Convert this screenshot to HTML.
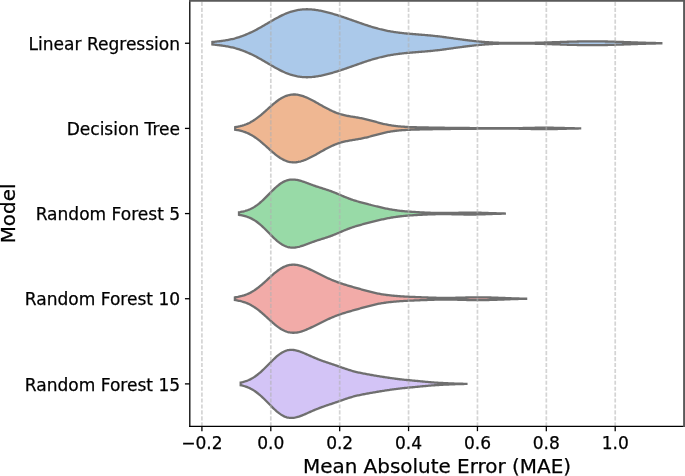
<!DOCTYPE html>
<html><head><meta charset="utf-8"><title>Model MAE violin plot</title>
<style>
html,body{margin:0;padding:0;background:#fff;}
body{width:685px;height:476px;overflow:hidden;}
svg{display:block;}
text{font-family:"DejaVu Sans","Liberation Sans",sans-serif;fill:#000;stroke:#000;stroke-width:0.25px;}
.tick{font-size:17.05px;}
.lab{font-size:19.95px;}
</style></head><body>
<svg width="685" height="476" viewBox="0 0 685 476">
<rect x="0" y="0" width="685" height="476" fill="#fff"/>
<path d="M212.4,41.96 213.4,41.88 214.4,41.79 215.4,41.69 216.4,41.59 217.4,41.48 218.4,41.37 219.4,41.25 220.4,41.13 221.4,41.00 222.4,40.86 223.4,40.71 224.4,40.56 225.4,40.40 226.4,40.23 227.4,40.05 228.4,39.86 229.4,39.66 230.4,39.46 231.4,39.24 232.4,39.02 233.4,38.78 234.4,38.53 235.4,38.25 236.4,37.97 237.4,37.67 238.4,37.36 239.4,37.04 240.4,36.71 241.4,36.36 242.4,36.00 243.4,35.63 244.4,35.24 245.4,34.84 246.4,34.43 247.4,34.01 248.4,33.57 249.4,33.12 250.4,32.66 251.4,32.19 252.4,31.70 253.4,31.20 254.4,30.70 255.4,30.18 256.4,29.65 257.4,29.12 258.4,28.57 259.4,28.02 260.4,27.46 261.4,26.89 262.4,26.32 263.4,25.74 264.4,25.16 265.4,24.58 266.4,23.99 267.4,23.40 268.4,22.81 269.4,22.23 270.4,21.64 271.4,21.06 272.4,20.48 273.4,19.91 274.4,19.34 275.4,18.78 276.4,18.23 277.4,17.69 278.4,17.16 279.4,16.64 280.4,16.13 281.4,15.64 282.4,15.16 283.4,14.69 284.4,14.25 285.4,13.81 286.4,13.40 287.4,13.00 288.4,12.62 289.4,12.26 290.4,11.92 291.4,11.60 292.4,11.30 293.4,11.02 294.4,10.77 295.4,10.53 296.4,10.31 297.4,10.11 298.4,9.94 299.4,9.79 300.4,9.65 301.4,9.54 302.4,9.45 303.4,9.37 304.4,9.32 305.4,9.29 306.4,9.27 307.4,9.27 308.4,9.29 309.4,9.33 310.4,9.39 311.4,9.46 312.4,9.54 313.4,9.65 314.4,9.76 315.4,9.89 316.4,10.04 317.4,10.19 318.4,10.36 319.4,10.54 320.4,10.73 321.4,10.93 322.4,11.14 323.4,11.36 324.4,11.59 325.4,11.83 326.4,12.08 327.4,12.33 328.4,12.59 329.4,12.86 330.4,13.14 331.4,13.42 332.4,13.71 333.4,14.00 334.4,14.30 335.4,14.60 336.4,14.91 337.4,15.22 338.4,15.54 339.4,15.86 340.4,16.19 341.4,16.52 342.4,16.85 343.4,17.18 344.4,17.52 345.4,17.86 346.4,18.21 347.4,18.55 348.4,18.90 349.4,19.25 350.4,19.60 351.4,19.95 352.4,20.30 353.4,20.65 354.4,21.01 355.4,21.36 356.4,21.71 357.4,22.06 358.4,22.42 359.4,22.76 360.4,23.11 361.4,23.46 362.4,23.80 363.4,24.14 364.4,24.48 365.4,24.82 366.4,25.15 367.4,25.47 368.4,25.80 369.4,26.12 370.4,26.43 371.4,26.74 372.4,27.04 373.4,27.34 374.4,27.63 375.4,27.92 376.4,28.20 377.4,28.47 378.4,28.74 379.4,29.00 380.4,29.25 381.4,29.49 382.4,29.73 383.4,29.97 384.4,30.19 385.4,30.41 386.4,30.62 387.4,30.82 388.4,31.02 389.4,31.21 390.4,31.39 391.4,31.56 392.4,31.73 393.4,31.90 394.4,32.05 395.4,32.20 396.4,32.35 397.4,32.48 398.4,32.62 399.4,32.74 400.4,32.86 401.4,32.98 402.4,33.09 403.4,33.20 404.4,33.30 405.4,33.40 406.4,33.50 407.4,33.59 408.4,33.68 409.4,33.77 410.4,33.86 411.4,33.94 412.4,34.02 413.4,34.10 414.4,34.18 415.4,34.26 416.4,34.34 417.4,34.42 418.4,34.49 419.4,34.57 420.4,34.65 421.4,34.73 422.4,34.81 423.4,34.89 424.4,34.97 425.4,35.06 426.4,35.15 427.4,35.23 428.4,35.32 429.4,35.42 430.4,35.51 431.4,35.61 432.4,35.71 433.4,35.81 434.4,35.92 435.4,36.03 436.4,36.14 437.4,36.25 438.4,36.37 439.4,36.48 440.4,36.61 441.4,36.73 442.4,36.86 443.4,36.99 444.4,37.12 445.4,37.25 446.4,37.38 447.4,37.52 448.4,37.66 449.4,37.80 450.4,37.94 451.4,38.08 452.4,38.23 453.4,38.37 454.4,38.52 455.4,38.66 456.4,38.80 457.4,38.93 458.4,39.07 459.4,39.20 460.4,39.34 461.4,39.47 462.4,39.61 463.4,39.74 464.4,39.87 465.4,40.00 466.4,40.13 467.4,40.25 468.4,40.37 469.4,40.49 470.4,40.61 471.4,40.73 472.4,40.84 473.4,40.95 474.4,41.06 475.4,41.17 476.4,41.27 477.4,41.37 478.4,41.47 479.4,41.56 480.4,41.65 481.4,41.74 482.4,41.82 483.4,41.90 484.4,41.98 485.4,42.05 486.4,42.13 487.4,42.19 488.4,42.26 489.4,42.32 490.4,42.38 491.4,42.44 492.4,42.49 493.4,42.54 494.4,42.59 495.4,42.63 496.4,42.67 497.4,42.71 498.4,42.75 499.4,42.78 500.4,42.81 501.4,42.84 502.4,42.87 503.4,42.89 504.4,42.91 505.4,42.93 506.4,42.95 507.4,42.97 508.4,42.98 509.4,42.99 510.4,43.00 511.4,43.01 512.4,43.02 513.4,43.02 514.4,43.02 515.4,43.02 516.4,43.02 517.4,43.02 518.4,43.02 519.4,43.01 520.4,43.01 521.4,43.00 522.4,42.99 523.4,42.98 524.4,42.97 525.4,42.96 526.4,42.94 527.4,42.93 528.4,42.91 529.4,42.89 530.4,42.87 531.4,42.85 532.4,42.83 533.4,42.81 534.4,42.79 535.4,42.77 536.4,42.74 537.4,42.72 538.4,42.69 539.4,42.67 540.4,42.64 541.4,42.61 542.4,42.58 543.4,42.55 544.4,42.52 545.4,42.49 546.4,42.46 547.4,42.43 548.4,42.40 549.4,42.36 550.4,42.33 551.4,42.30 552.4,42.26 553.4,42.23 554.4,42.20 555.4,42.16 556.4,42.13 557.4,42.10 558.4,42.06 559.4,42.03 560.4,41.99 561.4,41.96 562.4,41.93 563.4,41.89 564.4,41.86 565.4,41.83 566.4,41.80 567.4,41.77 568.4,41.74 569.4,41.71 570.4,41.68 571.4,41.65 572.4,41.63 573.4,41.60 574.4,41.57 575.4,41.55 576.4,41.53 577.4,41.50 578.4,41.48 579.4,41.46 580.4,41.45 581.4,41.43 582.4,41.41 583.4,41.40 584.4,41.39 585.4,41.38 586.4,41.37 587.4,41.36 588.4,41.35 589.4,41.35 590.4,41.34 591.4,41.34 592.4,41.34 593.4,41.34 594.4,41.34 595.4,41.35 596.4,41.35 597.4,41.36 598.4,41.37 599.4,41.38 600.4,41.39 601.4,41.41 602.4,41.42 603.4,41.44 604.4,41.46 605.4,41.48 606.4,41.50 607.4,41.52 608.4,41.55 609.4,41.57 610.4,41.60 611.4,41.62 612.4,41.65 613.4,41.68 614.4,41.71 615.4,41.74 616.4,41.78 617.4,41.81 618.4,41.84 619.4,41.88 620.4,41.91 621.4,41.95 622.4,41.98 623.4,42.02 624.4,42.05 625.4,42.09 626.4,42.13 627.4,42.16 628.4,42.20 629.4,42.23 630.4,42.27 631.4,42.31 632.4,42.34 633.4,42.38 634.4,42.41 635.4,42.45 636.4,42.48 637.4,42.52 638.4,42.55 639.4,42.58 640.4,42.62 641.4,42.65 642.4,42.68 643.4,42.71 644.4,42.74 645.4,42.77 646.4,42.79 647.4,42.82 648.4,42.85 649.4,42.87 650.4,42.90 651.4,42.92 652.4,42.94 653.4,42.97 654.4,42.99 655.4,43.01 656.4,43.03 657.4,43.05 658.4,43.06 659.4,43.08 660.4,43.10 661.3,43.11 L661.3,43.39 660.4,43.40 659.4,43.42 658.4,43.44 657.4,43.45 656.4,43.47 655.4,43.49 654.4,43.51 653.4,43.53 652.4,43.56 651.4,43.58 650.4,43.60 649.4,43.63 648.4,43.65 647.4,43.68 646.4,43.71 645.4,43.73 644.4,43.76 643.4,43.79 642.4,43.82 641.4,43.85 640.4,43.88 639.4,43.92 638.4,43.95 637.4,43.98 636.4,44.02 635.4,44.05 634.4,44.09 633.4,44.12 632.4,44.16 631.4,44.19 630.4,44.23 629.4,44.27 628.4,44.30 627.4,44.34 626.4,44.37 625.4,44.41 624.4,44.45 623.4,44.48 622.4,44.52 621.4,44.55 620.4,44.59 619.4,44.62 618.4,44.66 617.4,44.69 616.4,44.72 615.4,44.76 614.4,44.79 613.4,44.82 612.4,44.85 611.4,44.88 610.4,44.90 609.4,44.93 608.4,44.95 607.4,44.98 606.4,45.00 605.4,45.02 604.4,45.04 603.4,45.06 602.4,45.08 601.4,45.09 600.4,45.11 599.4,45.12 598.4,45.13 597.4,45.14 596.4,45.15 595.4,45.15 594.4,45.16 593.4,45.16 592.4,45.16 591.4,45.16 590.4,45.16 589.4,45.15 588.4,45.15 587.4,45.14 586.4,45.13 585.4,45.12 584.4,45.11 583.4,45.10 582.4,45.09 581.4,45.07 580.4,45.05 579.4,45.04 578.4,45.02 577.4,45.00 576.4,44.97 575.4,44.95 574.4,44.93 573.4,44.90 572.4,44.87 571.4,44.85 570.4,44.82 569.4,44.79 568.4,44.76 567.4,44.73 566.4,44.70 565.4,44.67 564.4,44.64 563.4,44.61 562.4,44.57 561.4,44.54 560.4,44.51 559.4,44.47 558.4,44.44 557.4,44.40 556.4,44.37 555.4,44.34 554.4,44.30 553.4,44.27 552.4,44.24 551.4,44.20 550.4,44.17 549.4,44.14 548.4,44.10 547.4,44.07 546.4,44.04 545.4,44.01 544.4,43.98 543.4,43.95 542.4,43.92 541.4,43.89 540.4,43.86 539.4,43.83 538.4,43.81 537.4,43.78 536.4,43.76 535.4,43.73 534.4,43.71 533.4,43.69 532.4,43.67 531.4,43.65 530.4,43.63 529.4,43.61 528.4,43.59 527.4,43.57 526.4,43.56 525.4,43.54 524.4,43.53 523.4,43.52 522.4,43.51 521.4,43.50 520.4,43.49 519.4,43.49 518.4,43.48 517.4,43.48 516.4,43.48 515.4,43.48 514.4,43.48 513.4,43.48 512.4,43.48 511.4,43.49 510.4,43.50 509.4,43.51 508.4,43.52 507.4,43.53 506.4,43.55 505.4,43.57 504.4,43.59 503.4,43.61 502.4,43.63 501.4,43.66 500.4,43.69 499.4,43.72 498.4,43.75 497.4,43.79 496.4,43.83 495.4,43.87 494.4,43.91 493.4,43.96 492.4,44.01 491.4,44.06 490.4,44.12 489.4,44.18 488.4,44.24 487.4,44.31 486.4,44.37 485.4,44.45 484.4,44.52 483.4,44.60 482.4,44.68 481.4,44.76 480.4,44.85 479.4,44.94 478.4,45.03 477.4,45.13 476.4,45.23 475.4,45.33 474.4,45.44 473.4,45.55 472.4,45.66 471.4,45.77 470.4,45.89 469.4,46.01 468.4,46.13 467.4,46.25 466.4,46.37 465.4,46.50 464.4,46.63 463.4,46.76 462.4,46.89 461.4,47.03 460.4,47.16 459.4,47.30 458.4,47.43 457.4,47.57 456.4,47.70 455.4,47.84 454.4,47.98 453.4,48.13 452.4,48.27 451.4,48.42 450.4,48.56 449.4,48.70 448.4,48.84 447.4,48.98 446.4,49.12 445.4,49.25 444.4,49.38 443.4,49.51 442.4,49.64 441.4,49.77 440.4,49.89 439.4,50.02 438.4,50.13 437.4,50.25 436.4,50.36 435.4,50.47 434.4,50.58 433.4,50.69 432.4,50.79 431.4,50.89 430.4,50.99 429.4,51.08 428.4,51.18 427.4,51.27 426.4,51.35 425.4,51.44 424.4,51.53 423.4,51.61 422.4,51.69 421.4,51.77 420.4,51.85 419.4,51.93 418.4,52.01 417.4,52.08 416.4,52.16 415.4,52.24 414.4,52.32 413.4,52.40 412.4,52.48 411.4,52.56 410.4,52.64 409.4,52.73 408.4,52.82 407.4,52.91 406.4,53.00 405.4,53.10 404.4,53.20 403.4,53.30 402.4,53.41 401.4,53.52 400.4,53.64 399.4,53.76 398.4,53.88 397.4,54.02 396.4,54.15 395.4,54.30 394.4,54.45 393.4,54.60 392.4,54.77 391.4,54.94 390.4,55.11 389.4,55.29 388.4,55.48 387.4,55.68 386.4,55.88 385.4,56.09 384.4,56.31 383.4,56.53 382.4,56.77 381.4,57.01 380.4,57.25 379.4,57.50 378.4,57.76 377.4,58.03 376.4,58.30 375.4,58.58 374.4,58.87 373.4,59.16 372.4,59.46 371.4,59.76 370.4,60.07 369.4,60.38 368.4,60.70 367.4,61.03 366.4,61.35 365.4,61.68 364.4,62.02 363.4,62.36 362.4,62.70 361.4,63.04 360.4,63.39 359.4,63.74 358.4,64.08 357.4,64.44 356.4,64.79 355.4,65.14 354.4,65.49 353.4,65.85 352.4,66.20 351.4,66.55 350.4,66.90 349.4,67.25 348.4,67.60 347.4,67.95 346.4,68.29 345.4,68.64 344.4,68.98 343.4,69.32 342.4,69.65 341.4,69.98 340.4,70.31 339.4,70.64 338.4,70.96 337.4,71.28 336.4,71.59 335.4,71.90 334.4,72.20 333.4,72.50 332.4,72.79 331.4,73.08 330.4,73.36 329.4,73.64 328.4,73.91 327.4,74.17 326.4,74.42 325.4,74.67 324.4,74.91 323.4,75.14 322.4,75.36 321.4,75.57 320.4,75.77 319.4,75.96 318.4,76.14 317.4,76.31 316.4,76.46 315.4,76.61 314.4,76.74 313.4,76.85 312.4,76.96 311.4,77.04 310.4,77.11 309.4,77.17 308.4,77.21 307.4,77.23 306.4,77.23 305.4,77.21 304.4,77.18 303.4,77.13 302.4,77.05 301.4,76.96 300.4,76.85 299.4,76.71 298.4,76.56 297.4,76.39 296.4,76.19 295.4,75.97 294.4,75.73 293.4,75.48 292.4,75.20 291.4,74.90 290.4,74.58 289.4,74.24 288.4,73.88 287.4,73.50 286.4,73.10 285.4,72.69 284.4,72.25 283.4,71.81 282.4,71.34 281.4,70.86 280.4,70.37 279.4,69.86 278.4,69.34 277.4,68.81 276.4,68.27 275.4,67.72 274.4,67.16 273.4,66.59 272.4,66.02 271.4,65.44 270.4,64.86 269.4,64.27 268.4,63.69 267.4,63.10 266.4,62.51 265.4,61.92 264.4,61.34 263.4,60.76 262.4,60.18 261.4,59.61 260.4,59.04 259.4,58.48 258.4,57.93 257.4,57.38 256.4,56.85 255.4,56.32 254.4,55.80 253.4,55.30 252.4,54.80 251.4,54.31 250.4,53.84 249.4,53.38 248.4,52.93 247.4,52.49 246.4,52.07 245.4,51.66 244.4,51.26 243.4,50.87 242.4,50.50 241.4,50.14 240.4,49.79 239.4,49.46 238.4,49.14 237.4,48.83 236.4,48.53 235.4,48.25 234.4,47.97 233.4,47.72 232.4,47.48 231.4,47.26 230.4,47.04 229.4,46.84 228.4,46.64 227.4,46.45 226.4,46.27 225.4,46.10 224.4,45.94 223.4,45.79 222.4,45.64 221.4,45.50 220.4,45.37 219.4,45.25 218.4,45.13 217.4,45.02 216.4,44.91 215.4,44.81 214.4,44.71 213.4,44.62 212.4,44.54Z" fill="#abc9ea" stroke="#6f6f6f" stroke-width="2.3" stroke-linejoin="miter"/>
<path d="M235.2,127.12 236.2,126.96 237.2,126.78 238.2,126.58 239.2,126.37 240.2,126.14 241.2,125.88 242.2,125.61 243.2,125.31 244.2,124.99 245.2,124.64 246.2,124.27 247.2,123.86 248.2,123.41 249.2,122.93 250.2,122.41 251.2,121.86 252.2,121.29 253.2,120.68 254.2,120.04 255.2,119.37 256.2,118.67 257.2,117.94 258.2,117.18 259.2,116.40 260.2,115.60 261.2,114.77 262.2,113.93 263.2,113.06 264.2,112.19 265.2,111.30 266.2,110.40 267.2,109.50 268.2,108.60 269.2,107.70 270.2,106.80 271.2,105.92 272.2,105.05 273.2,104.19 274.2,103.35 275.2,102.54 276.2,101.75 277.2,100.99 278.2,100.26 279.2,99.57 280.2,98.91 281.2,98.30 282.2,97.73 283.2,97.20 284.2,96.71 285.2,96.27 286.2,95.88 287.2,95.54 288.2,95.25 289.2,95.00 290.2,94.80 291.2,94.65 292.2,94.55 293.2,94.49 294.2,94.48 295.2,94.52 296.2,94.59 297.2,94.71 298.2,94.87 299.2,95.07 300.2,95.30 301.2,95.57 302.2,95.87 303.2,96.20 304.2,96.57 305.2,96.95 306.2,97.37 307.2,97.80 308.2,98.26 309.2,98.73 310.2,99.22 311.2,99.73 312.2,100.25 313.2,100.79 314.2,101.33 315.2,101.88 316.2,102.44 317.2,103.00 318.2,103.57 319.2,104.14 320.2,104.70 321.2,105.27 322.2,105.84 323.2,106.40 324.2,106.95 325.2,107.50 326.2,108.04 327.2,108.57 328.2,109.09 329.2,109.60 330.2,110.10 331.2,110.57 332.2,111.04 333.2,111.48 334.2,111.91 335.2,112.32 336.2,112.71 337.2,113.09 338.2,113.44 339.2,113.77 340.2,114.09 341.2,114.38 342.2,114.66 343.2,114.92 344.2,115.16 345.2,115.39 346.2,115.61 347.2,115.81 348.2,116.00 349.2,116.18 350.2,116.36 351.2,116.52 352.2,116.69 353.2,116.85 354.2,117.01 355.2,117.17 356.2,117.33 357.2,117.50 358.2,117.67 359.2,117.85 360.2,118.03 361.2,118.23 362.2,118.43 363.2,118.63 364.2,118.85 365.2,119.08 366.2,119.31 367.2,119.56 368.2,119.81 369.2,120.06 370.2,120.33 371.2,120.59 372.2,120.87 373.2,121.14 374.2,121.42 375.2,121.69 376.2,121.97 377.2,122.25 378.2,122.52 379.2,122.79 380.2,123.05 381.2,123.31 382.2,123.56 383.2,123.81 384.2,124.03 385.2,124.25 386.2,124.46 387.2,124.66 388.2,124.85 389.2,125.03 390.2,125.20 391.2,125.37 392.2,125.52 393.2,125.67 394.2,125.81 395.2,125.94 396.2,126.06 397.2,126.17 398.2,126.28 399.2,126.38 400.2,126.47 401.2,126.55 402.2,126.63 403.2,126.70 404.2,126.77 405.2,126.83 406.2,126.89 407.2,126.94 408.2,126.99 409.2,127.04 410.2,127.08 411.2,127.12 412.2,127.15 413.2,127.19 414.2,127.22 415.2,127.24 416.2,127.27 417.2,127.30 418.2,127.32 419.2,127.34 420.2,127.36 421.2,127.38 422.2,127.40 423.2,127.42 424.2,127.44 425.2,127.46 426.2,127.48 427.2,127.50 428.2,127.51 429.2,127.53 430.2,127.55 431.2,127.56 432.2,127.58 433.2,127.60 434.2,127.61 435.2,127.63 436.2,127.65 437.2,127.66 438.2,127.68 439.2,127.69 440.2,127.71 441.2,127.72 442.2,127.74 443.2,127.75 444.2,127.77 445.2,127.78 446.2,127.79 447.2,127.80 448.2,127.82 449.2,127.83 450.2,127.84 451.2,127.85 452.2,127.86 453.2,127.87 454.2,127.88 455.2,127.89 456.2,127.90 457.2,127.91 458.2,127.92 459.2,127.92 460.2,127.93 461.2,127.94 462.2,127.95 463.2,127.96 464.2,127.97 465.2,127.98 466.2,127.99 467.2,128.00 468.2,128.01 469.2,128.02 470.2,128.03 471.2,128.04 472.2,128.05 473.2,128.06 474.2,128.07 475.2,128.08 476.2,128.09 477.2,128.10 478.2,128.11 479.2,128.12 480.2,128.13 481.2,128.14 482.2,128.15 483.2,128.16 484.2,128.17 485.2,128.18 486.2,128.19 487.2,128.19 488.2,128.20 489.2,128.21 490.2,128.21 491.2,128.22 492.2,128.23 493.2,128.23 494.2,128.24 495.2,128.24 496.2,128.24 497.2,128.24 498.2,128.25 499.2,128.25 500.2,128.25 501.2,128.25 502.2,128.25 503.2,128.24 504.2,128.24 505.2,128.24 506.2,128.23 507.2,128.23 508.2,128.22 509.2,128.22 510.2,128.21 511.2,128.20 512.2,128.19 513.2,128.18 514.2,128.17 515.2,128.15 516.2,128.14 517.2,128.12 518.2,128.11 519.2,128.09 520.2,128.07 521.2,128.06 522.2,128.04 523.2,128.02 524.2,128.00 525.2,127.97 526.2,127.95 527.2,127.93 528.2,127.91 529.2,127.89 530.2,127.87 531.2,127.84 532.2,127.82 533.2,127.80 534.2,127.78 535.2,127.77 536.2,127.75 537.2,127.73 538.2,127.72 539.2,127.71 540.2,127.70 541.2,127.69 542.2,127.68 543.2,127.68 544.2,127.68 545.2,127.68 546.2,127.68 547.2,127.68 548.2,127.69 549.2,127.70 550.2,127.71 551.2,127.72 552.2,127.74 553.2,127.76 554.2,127.78 555.2,127.80 556.2,127.82 557.2,127.84 558.2,127.86 559.2,127.89 560.2,127.91 561.2,127.94 562.2,127.97 563.2,127.99 564.2,128.02 565.2,128.05 566.2,128.07 567.2,128.10 568.2,128.13 569.2,128.15 570.2,128.17 571.2,128.20 572.2,128.22 573.2,128.24 574.2,128.26 575.2,128.28 576.2,128.30 577.2,128.32 578.2,128.34 579.2,128.35 580.1,128.36 L580.1,128.46 579.2,128.47 578.2,128.48 577.2,128.50 576.2,128.52 575.2,128.54 574.2,128.56 573.2,128.58 572.2,128.60 571.2,128.62 570.2,128.65 569.2,128.67 568.2,128.69 567.2,128.72 566.2,128.75 565.2,128.77 564.2,128.80 563.2,128.83 562.2,128.85 561.2,128.88 560.2,128.91 559.2,128.93 558.2,128.96 557.2,128.98 556.2,129.00 555.2,129.02 554.2,129.04 553.2,129.06 552.2,129.08 551.2,129.10 550.2,129.11 549.2,129.12 548.2,129.13 547.2,129.14 546.2,129.14 545.2,129.14 544.2,129.14 543.2,129.14 542.2,129.14 541.2,129.13 540.2,129.12 539.2,129.11 538.2,129.10 537.2,129.09 536.2,129.07 535.2,129.05 534.2,129.04 533.2,129.02 532.2,129.00 531.2,128.98 530.2,128.95 529.2,128.93 528.2,128.91 527.2,128.89 526.2,128.87 525.2,128.85 524.2,128.82 523.2,128.80 522.2,128.78 521.2,128.76 520.2,128.75 519.2,128.73 518.2,128.71 517.2,128.70 516.2,128.68 515.2,128.67 514.2,128.65 513.2,128.64 512.2,128.63 511.2,128.62 510.2,128.61 509.2,128.60 508.2,128.60 507.2,128.59 506.2,128.59 505.2,128.58 504.2,128.58 503.2,128.58 502.2,128.57 501.2,128.57 500.2,128.57 499.2,128.57 498.2,128.57 497.2,128.58 496.2,128.58 495.2,128.58 494.2,128.58 493.2,128.59 492.2,128.59 491.2,128.60 490.2,128.61 489.2,128.61 488.2,128.62 487.2,128.63 486.2,128.63 485.2,128.64 484.2,128.65 483.2,128.66 482.2,128.67 481.2,128.68 480.2,128.69 479.2,128.70 478.2,128.71 477.2,128.72 476.2,128.73 475.2,128.74 474.2,128.75 473.2,128.76 472.2,128.77 471.2,128.78 470.2,128.79 469.2,128.80 468.2,128.81 467.2,128.82 466.2,128.83 465.2,128.84 464.2,128.85 463.2,128.86 462.2,128.87 461.2,128.88 460.2,128.89 459.2,128.90 458.2,128.90 457.2,128.91 456.2,128.92 455.2,128.93 454.2,128.94 453.2,128.95 452.2,128.96 451.2,128.97 450.2,128.98 449.2,128.99 448.2,129.00 447.2,129.02 446.2,129.03 445.2,129.04 444.2,129.05 443.2,129.07 442.2,129.08 441.2,129.10 440.2,129.11 439.2,129.13 438.2,129.14 437.2,129.16 436.2,129.17 435.2,129.19 434.2,129.21 433.2,129.22 432.2,129.24 431.2,129.26 430.2,129.27 429.2,129.29 428.2,129.31 427.2,129.32 426.2,129.34 425.2,129.36 424.2,129.38 423.2,129.40 422.2,129.42 421.2,129.44 420.2,129.46 419.2,129.48 418.2,129.50 417.2,129.52 416.2,129.55 415.2,129.58 414.2,129.60 413.2,129.63 412.2,129.67 411.2,129.70 410.2,129.74 409.2,129.78 408.2,129.83 407.2,129.88 406.2,129.93 405.2,129.99 404.2,130.05 403.2,130.12 402.2,130.19 401.2,130.27 400.2,130.35 399.2,130.44 398.2,130.54 397.2,130.65 396.2,130.76 395.2,130.88 394.2,131.01 393.2,131.15 392.2,131.30 391.2,131.45 390.2,131.62 389.2,131.79 388.2,131.97 387.2,132.16 386.2,132.36 385.2,132.57 384.2,132.79 383.2,133.01 382.2,133.26 381.2,133.51 380.2,133.77 379.2,134.03 378.2,134.30 377.2,134.57 376.2,134.85 375.2,135.13 374.2,135.40 373.2,135.68 372.2,135.95 371.2,136.23 370.2,136.49 369.2,136.76 368.2,137.01 367.2,137.26 366.2,137.51 365.2,137.74 364.2,137.97 363.2,138.19 362.2,138.39 361.2,138.59 360.2,138.79 359.2,138.97 358.2,139.15 357.2,139.32 356.2,139.49 355.2,139.65 354.2,139.81 353.2,139.97 352.2,140.13 351.2,140.30 350.2,140.46 349.2,140.64 348.2,140.82 347.2,141.01 346.2,141.21 345.2,141.43 344.2,141.66 343.2,141.90 342.2,142.16 341.2,142.44 340.2,142.73 339.2,143.05 338.2,143.38 337.2,143.73 336.2,144.11 335.2,144.50 334.2,144.91 333.2,145.34 332.2,145.78 331.2,146.25 330.2,146.72 329.2,147.22 328.2,147.73 327.2,148.25 326.2,148.78 325.2,149.32 324.2,149.87 323.2,150.42 322.2,150.98 321.2,151.55 320.2,152.12 319.2,152.68 318.2,153.25 317.2,153.82 316.2,154.38 315.2,154.94 314.2,155.49 313.2,156.03 312.2,156.57 311.2,157.09 310.2,157.60 309.2,158.09 308.2,158.56 307.2,159.02 306.2,159.45 305.2,159.87 304.2,160.25 303.2,160.62 302.2,160.95 301.2,161.25 300.2,161.52 299.2,161.75 298.2,161.95 297.2,162.11 296.2,162.23 295.2,162.30 294.2,162.34 293.2,162.33 292.2,162.27 291.2,162.17 290.2,162.02 289.2,161.82 288.2,161.57 287.2,161.28 286.2,160.94 285.2,160.55 284.2,160.11 283.2,159.62 282.2,159.09 281.2,158.52 280.2,157.91 279.2,157.25 278.2,156.56 277.2,155.83 276.2,155.07 275.2,154.28 274.2,153.47 273.2,152.63 272.2,151.77 271.2,150.90 270.2,150.02 269.2,149.12 268.2,148.22 267.2,147.32 266.2,146.42 265.2,145.52 264.2,144.63 263.2,143.76 262.2,142.89 261.2,142.05 260.2,141.22 259.2,140.42 258.2,139.64 257.2,138.88 256.2,138.15 255.2,137.45 254.2,136.78 253.2,136.14 252.2,135.53 251.2,134.96 250.2,134.41 249.2,133.89 248.2,133.41 247.2,132.96 246.2,132.55 245.2,132.18 244.2,131.83 243.2,131.51 242.2,131.21 241.2,130.94 240.2,130.68 239.2,130.45 238.2,130.24 237.2,130.04 236.2,129.86 235.2,129.70Z" fill="#efb792" stroke="#6f6f6f" stroke-width="2.3" stroke-linejoin="miter"/>
<path d="M239.0,212.29 240.0,212.13 241.0,211.94 242.0,211.74 243.0,211.52 244.0,211.27 245.0,211.01 246.0,210.71 247.0,210.39 248.0,210.04 249.0,209.66 250.0,209.24 251.0,208.79 252.0,208.27 253.0,207.72 254.0,207.13 255.0,206.50 256.0,205.83 257.0,205.12 258.0,204.37 259.0,203.58 260.0,202.75 261.0,201.89 262.0,201.00 263.0,200.07 264.0,199.12 265.0,198.15 266.0,197.15 267.0,196.15 268.0,195.13 269.0,194.10 270.0,193.08 271.0,192.06 272.0,191.06 273.0,190.07 274.0,189.10 275.0,188.16 276.0,187.25 277.0,186.37 278.0,185.54 279.0,184.76 280.0,184.02 281.0,183.33 282.0,182.70 283.0,182.12 284.0,181.60 285.0,181.14 286.0,180.74 287.0,180.40 288.0,180.11 289.0,179.89 290.0,179.72 291.0,179.60 292.0,179.54 293.0,179.53 294.0,179.56 295.0,179.65 296.0,179.77 297.0,179.93 298.0,180.14 299.0,180.37 300.0,180.63 301.0,180.92 302.0,181.23 303.0,181.56 304.0,181.90 305.0,182.26 306.0,182.63 307.0,183.00 308.0,183.38 309.0,183.76 310.0,184.14 311.0,184.51 312.0,184.88 313.0,185.24 314.0,185.60 315.0,185.95 316.0,186.29 317.0,186.62 318.0,186.95 319.0,187.27 320.0,187.59 321.0,187.90 322.0,188.21 323.0,188.53 324.0,188.84 325.0,189.16 326.0,189.48 327.0,189.81 328.0,190.14 329.0,190.49 330.0,190.84 331.0,191.20 332.0,191.58 333.0,191.96 334.0,192.36 335.0,192.76 336.0,193.18 337.0,193.59 338.0,194.02 339.0,194.45 340.0,194.88 341.0,195.31 342.0,195.74 343.0,196.16 344.0,196.58 345.0,197.00 346.0,197.40 347.0,197.80 348.0,198.19 349.0,198.57 350.0,198.94 351.0,199.29 352.0,199.64 353.0,199.98 354.0,200.30 355.0,200.62 356.0,200.93 357.0,201.23 358.0,201.52 359.0,201.81 360.0,202.09 361.0,202.37 362.0,202.64 363.0,202.91 364.0,203.18 365.0,203.44 366.0,203.71 367.0,203.97 368.0,204.23 369.0,204.49 370.0,204.74 371.0,205.00 372.0,205.25 373.0,205.50 374.0,205.75 375.0,206.00 376.0,206.25 377.0,206.49 378.0,206.73 379.0,206.97 380.0,207.20 381.0,207.43 382.0,207.66 383.0,207.88 384.0,208.10 385.0,208.32 386.0,208.53 387.0,208.73 388.0,208.93 389.0,209.12 390.0,209.30 391.0,209.47 392.0,209.64 393.0,209.80 394.0,209.96 395.0,210.11 396.0,210.25 397.0,210.39 398.0,210.53 399.0,210.65 400.0,210.78 401.0,210.89 402.0,211.00 403.0,211.10 404.0,211.20 405.0,211.30 406.0,211.38 407.0,211.47 408.0,211.55 409.0,211.62 410.0,211.69 411.0,211.76 412.0,211.83 413.0,211.89 414.0,211.95 415.0,212.01 416.0,212.07 417.0,212.13 418.0,212.18 419.0,212.23 420.0,212.29 421.0,212.34 422.0,212.39 423.0,212.44 424.0,212.49 425.0,212.54 426.0,212.58 427.0,212.63 428.0,212.67 429.0,212.71 430.0,212.75 431.0,212.79 432.0,212.82 433.0,212.86 434.0,212.89 435.0,212.91 436.0,212.93 437.0,212.95 438.0,212.97 439.0,212.99 440.0,213.00 441.0,213.00 442.0,213.01 443.0,213.01 444.0,213.00 445.0,213.00 446.0,212.99 447.0,212.98 448.0,212.97 449.0,212.96 450.0,212.94 451.0,212.92 452.0,212.90 453.0,212.88 454.0,212.86 455.0,212.84 456.0,212.82 457.0,212.80 458.0,212.78 459.0,212.75 460.0,212.73 461.0,212.71 462.0,212.70 463.0,212.68 464.0,212.66 465.0,212.65 466.0,212.64 467.0,212.63 468.0,212.62 469.0,212.62 470.0,212.62 471.0,212.62 472.0,212.62 473.0,212.62 474.0,212.63 475.0,212.64 476.0,212.66 477.0,212.68 478.0,212.69 479.0,212.72 480.0,212.74 481.0,212.77 482.0,212.79 483.0,212.82 484.0,212.86 485.0,212.89 486.0,212.92 487.0,212.96 488.0,212.99 489.0,213.03 490.0,213.06 491.0,213.10 492.0,213.14 493.0,213.17 494.0,213.20 495.0,213.24 496.0,213.27 497.0,213.30 498.0,213.33 499.0,213.36 500.0,213.39 501.0,213.41 502.0,213.44 503.0,213.46 504.0,213.48 504.8,213.50 L504.8,213.64 504.0,213.66 503.0,213.68 502.0,213.70 501.0,213.73 500.0,213.75 499.0,213.78 498.0,213.81 497.0,213.84 496.0,213.87 495.0,213.90 494.0,213.94 493.0,213.97 492.0,214.00 491.0,214.04 490.0,214.08 489.0,214.11 488.0,214.15 487.0,214.18 486.0,214.22 485.0,214.25 484.0,214.28 483.0,214.32 482.0,214.35 481.0,214.37 480.0,214.40 479.0,214.42 478.0,214.45 477.0,214.46 476.0,214.48 475.0,214.50 474.0,214.51 473.0,214.52 472.0,214.52 471.0,214.52 470.0,214.52 469.0,214.52 468.0,214.52 467.0,214.51 466.0,214.50 465.0,214.49 464.0,214.48 463.0,214.46 462.0,214.44 461.0,214.43 460.0,214.41 459.0,214.39 458.0,214.36 457.0,214.34 456.0,214.32 455.0,214.30 454.0,214.28 453.0,214.26 452.0,214.24 451.0,214.22 450.0,214.20 449.0,214.18 448.0,214.17 447.0,214.16 446.0,214.15 445.0,214.14 444.0,214.14 443.0,214.13 442.0,214.13 441.0,214.14 440.0,214.14 439.0,214.15 438.0,214.17 437.0,214.19 436.0,214.21 435.0,214.23 434.0,214.25 433.0,214.28 432.0,214.32 431.0,214.35 430.0,214.39 429.0,214.43 428.0,214.47 427.0,214.51 426.0,214.56 425.0,214.60 424.0,214.65 423.0,214.70 422.0,214.75 421.0,214.80 420.0,214.85 419.0,214.91 418.0,214.96 417.0,215.01 416.0,215.07 415.0,215.13 414.0,215.19 413.0,215.25 412.0,215.31 411.0,215.38 410.0,215.45 409.0,215.52 408.0,215.59 407.0,215.67 406.0,215.76 405.0,215.84 404.0,215.94 403.0,216.04 402.0,216.14 401.0,216.25 400.0,216.36 399.0,216.49 398.0,216.61 397.0,216.75 396.0,216.89 395.0,217.03 394.0,217.18 393.0,217.34 392.0,217.50 391.0,217.67 390.0,217.84 389.0,218.02 388.0,218.21 387.0,218.41 386.0,218.61 385.0,218.82 384.0,219.04 383.0,219.26 382.0,219.48 381.0,219.71 380.0,219.94 379.0,220.17 378.0,220.41 377.0,220.65 376.0,220.89 375.0,221.14 374.0,221.39 373.0,221.64 372.0,221.89 371.0,222.14 370.0,222.40 369.0,222.65 368.0,222.91 367.0,223.17 366.0,223.43 365.0,223.70 364.0,223.96 363.0,224.23 362.0,224.50 361.0,224.77 360.0,225.05 359.0,225.33 358.0,225.62 357.0,225.91 356.0,226.21 355.0,226.52 354.0,226.84 353.0,227.16 352.0,227.50 351.0,227.85 350.0,228.20 349.0,228.57 348.0,228.95 347.0,229.34 346.0,229.74 345.0,230.14 344.0,230.56 343.0,230.98 342.0,231.40 341.0,231.83 340.0,232.26 339.0,232.69 338.0,233.12 337.0,233.55 336.0,233.96 335.0,234.38 334.0,234.78 333.0,235.18 332.0,235.56 331.0,235.94 330.0,236.30 329.0,236.65 328.0,237.00 327.0,237.33 326.0,237.66 325.0,237.98 324.0,238.30 323.0,238.61 322.0,238.93 321.0,239.24 320.0,239.55 319.0,239.87 318.0,240.19 317.0,240.52 316.0,240.85 315.0,241.19 314.0,241.54 313.0,241.90 312.0,242.26 311.0,242.63 310.0,243.00 309.0,243.38 308.0,243.76 307.0,244.14 306.0,244.51 305.0,244.88 304.0,245.24 303.0,245.58 302.0,245.91 301.0,246.22 300.0,246.51 299.0,246.77 298.0,247.00 297.0,247.21 296.0,247.37 295.0,247.49 294.0,247.58 293.0,247.61 292.0,247.60 291.0,247.54 290.0,247.42 289.0,247.25 288.0,247.03 287.0,246.74 286.0,246.40 285.0,246.00 284.0,245.54 283.0,245.02 282.0,244.44 281.0,243.81 280.0,243.12 279.0,242.38 278.0,241.60 277.0,240.77 276.0,239.89 275.0,238.98 274.0,238.04 273.0,237.07 272.0,236.08 271.0,235.08 270.0,234.06 269.0,233.04 268.0,232.01 267.0,230.99 266.0,229.99 265.0,228.99 264.0,228.02 263.0,227.07 262.0,226.14 261.0,225.25 260.0,224.39 259.0,223.56 258.0,222.77 257.0,222.02 256.0,221.31 255.0,220.64 254.0,220.01 253.0,219.42 252.0,218.87 251.0,218.35 250.0,217.90 249.0,217.48 248.0,217.10 247.0,216.75 246.0,216.43 245.0,216.13 244.0,215.87 243.0,215.62 242.0,215.40 241.0,215.20 240.0,215.01 239.0,214.85Z" fill="#98daa7" stroke="#6f6f6f" stroke-width="2.3" stroke-linejoin="miter"/>
<path d="M234.9,297.41 235.9,297.25 236.9,297.08 237.9,296.90 238.9,296.69 239.9,296.47 240.9,296.23 241.9,295.97 242.9,295.68 243.9,295.38 244.9,295.04 245.9,294.69 246.9,294.30 247.9,293.88 248.9,293.41 249.9,292.91 250.9,292.39 251.9,291.83 252.9,291.23 253.9,290.61 254.9,289.95 255.9,289.27 256.9,288.55 257.9,287.80 258.9,287.03 259.9,286.22 260.9,285.40 261.9,284.55 262.9,283.68 263.9,282.80 264.9,281.90 265.9,280.98 266.9,280.07 267.9,279.14 268.9,278.22 269.9,277.30 270.9,276.39 271.9,275.49 272.9,274.60 273.9,273.74 274.9,272.90 275.9,272.08 276.9,271.29 277.9,270.54 278.9,269.83 279.9,269.15 280.9,268.52 281.9,267.93 282.9,267.38 283.9,266.89 284.9,266.44 285.9,266.05 286.9,265.70 287.9,265.41 288.9,265.17 289.9,264.98 290.9,264.84 291.9,264.74 292.9,264.70 293.9,264.70 294.9,264.75 295.9,264.84 296.9,264.97 297.9,265.14 298.9,265.34 299.9,265.58 300.9,265.85 301.9,266.16 302.9,266.49 303.9,266.84 304.9,267.22 305.9,267.61 306.9,268.03 307.9,268.46 308.9,268.91 309.9,269.37 310.9,269.84 311.9,270.32 312.9,270.80 313.9,271.30 314.9,271.79 315.9,272.29 316.9,272.79 317.9,273.30 318.9,273.80 319.9,274.30 320.9,274.80 321.9,275.30 322.9,275.79 323.9,276.28 324.9,276.76 325.9,277.24 326.9,277.71 327.9,278.17 328.9,278.62 329.9,279.07 330.9,279.51 331.9,279.94 332.9,280.36 333.9,280.76 334.9,281.16 335.9,281.55 336.9,281.93 337.9,282.30 338.9,282.67 339.9,283.02 340.9,283.36 341.9,283.69 342.9,284.02 343.9,284.34 344.9,284.65 345.9,284.96 346.9,285.26 347.9,285.56 348.9,285.85 349.9,286.14 350.9,286.43 351.9,286.71 352.9,287.00 353.9,287.28 354.9,287.56 355.9,287.84 356.9,288.12 357.9,288.40 358.9,288.69 359.9,288.97 360.9,289.25 361.9,289.52 362.9,289.80 363.9,290.08 364.9,290.35 365.9,290.63 366.9,290.89 367.9,291.16 368.9,291.42 369.9,291.68 370.9,291.93 371.9,292.18 372.9,292.42 373.9,292.65 374.9,292.88 375.9,293.10 376.9,293.31 377.9,293.52 378.9,293.72 379.9,293.91 380.9,294.09 381.9,294.26 382.9,294.42 383.9,294.57 384.9,294.72 385.9,294.85 386.9,294.99 387.9,295.11 388.9,295.23 389.9,295.35 390.9,295.46 391.9,295.56 392.9,295.66 393.9,295.76 394.9,295.85 395.9,295.93 396.9,296.02 397.9,296.09 398.9,296.17 399.9,296.24 400.9,296.31 401.9,296.37 402.9,296.43 403.9,296.49 404.9,296.55 405.9,296.60 406.9,296.66 407.9,296.71 408.9,296.75 409.9,296.80 410.9,296.84 411.9,296.89 412.9,296.93 413.9,296.97 414.9,297.01 415.9,297.05 416.9,297.09 417.9,297.13 418.9,297.17 419.9,297.21 420.9,297.25 421.9,297.28 422.9,297.32 423.9,297.36 424.9,297.40 425.9,297.43 426.9,297.47 427.9,297.51 428.9,297.54 429.9,297.58 430.9,297.61 431.9,297.65 432.9,297.68 433.9,297.71 434.9,297.74 435.9,297.76 436.9,297.79 437.9,297.81 438.9,297.83 439.9,297.85 440.9,297.86 441.9,297.87 442.9,297.88 443.9,297.89 444.9,297.89 445.9,297.89 446.9,297.89 447.9,297.89 448.9,297.88 449.9,297.87 450.9,297.86 451.9,297.84 452.9,297.82 453.9,297.80 454.9,297.78 455.9,297.76 456.9,297.74 457.9,297.71 458.9,297.68 459.9,297.66 460.9,297.63 461.9,297.60 462.9,297.58 463.9,297.55 464.9,297.53 465.9,297.50 466.9,297.48 467.9,297.46 468.9,297.44 469.9,297.42 470.9,297.40 471.9,297.38 472.9,297.37 473.9,297.36 474.9,297.35 475.9,297.34 476.9,297.34 477.9,297.34 478.9,297.34 479.9,297.34 480.9,297.34 481.9,297.35 482.9,297.36 483.9,297.37 484.9,297.39 485.9,297.40 486.9,297.42 487.9,297.44 488.9,297.46 489.9,297.49 490.9,297.51 491.9,297.54 492.9,297.57 493.9,297.60 494.9,297.64 495.9,297.67 496.9,297.71 497.9,297.74 498.9,297.78 499.9,297.82 500.9,297.86 501.9,297.90 502.9,297.94 503.9,297.98 504.9,298.02 505.9,298.06 506.9,298.09 507.9,298.13 508.9,298.17 509.9,298.21 510.9,298.25 511.9,298.28 512.9,298.32 513.9,298.35 514.9,298.39 515.9,298.42 516.9,298.45 517.9,298.48 518.9,298.51 519.9,298.53 520.9,298.56 521.9,298.58 522.9,298.60 523.9,298.63 524.9,298.64 525.9,298.66 526.1,298.67 L526.1,298.79 525.9,298.80 524.9,298.82 523.9,298.83 522.9,298.86 521.9,298.88 520.9,298.90 519.9,298.93 518.9,298.95 517.9,298.98 516.9,299.01 515.9,299.04 514.9,299.07 513.9,299.11 512.9,299.14 511.9,299.18 510.9,299.21 509.9,299.25 508.9,299.29 507.9,299.33 506.9,299.37 505.9,299.40 504.9,299.44 503.9,299.48 502.9,299.52 501.9,299.56 500.9,299.60 499.9,299.64 498.9,299.68 497.9,299.72 496.9,299.75 495.9,299.79 494.9,299.82 493.9,299.86 492.9,299.89 491.9,299.92 490.9,299.95 489.9,299.97 488.9,300.00 487.9,300.02 486.9,300.04 485.9,300.06 484.9,300.07 483.9,300.09 482.9,300.10 481.9,300.11 480.9,300.12 479.9,300.12 478.9,300.12 477.9,300.12 476.9,300.12 475.9,300.12 474.9,300.11 473.9,300.10 472.9,300.09 471.9,300.08 470.9,300.06 469.9,300.04 468.9,300.02 467.9,300.00 466.9,299.98 465.9,299.96 464.9,299.93 463.9,299.91 462.9,299.88 461.9,299.86 460.9,299.83 459.9,299.80 458.9,299.78 457.9,299.75 456.9,299.72 455.9,299.70 454.9,299.68 453.9,299.66 452.9,299.64 451.9,299.62 450.9,299.60 449.9,299.59 448.9,299.58 447.9,299.57 446.9,299.57 445.9,299.57 444.9,299.57 443.9,299.57 442.9,299.58 441.9,299.59 440.9,299.60 439.9,299.61 438.9,299.63 437.9,299.65 436.9,299.67 435.9,299.70 434.9,299.72 433.9,299.75 432.9,299.78 431.9,299.81 430.9,299.85 429.9,299.88 428.9,299.92 427.9,299.95 426.9,299.99 425.9,300.03 424.9,300.06 423.9,300.10 422.9,300.14 421.9,300.18 420.9,300.21 419.9,300.25 418.9,300.29 417.9,300.33 416.9,300.37 415.9,300.41 414.9,300.45 413.9,300.49 412.9,300.53 411.9,300.57 410.9,300.62 409.9,300.66 408.9,300.71 407.9,300.75 406.9,300.80 405.9,300.86 404.9,300.91 403.9,300.97 402.9,301.03 401.9,301.09 400.9,301.15 399.9,301.22 398.9,301.29 397.9,301.37 396.9,301.44 395.9,301.53 394.9,301.61 393.9,301.70 392.9,301.80 391.9,301.90 390.9,302.00 389.9,302.11 388.9,302.23 387.9,302.35 386.9,302.47 385.9,302.61 384.9,302.74 383.9,302.89 382.9,303.04 381.9,303.20 380.9,303.37 379.9,303.55 378.9,303.74 377.9,303.94 376.9,304.15 375.9,304.36 374.9,304.58 373.9,304.81 372.9,305.04 371.9,305.28 370.9,305.53 369.9,305.78 368.9,306.04 367.9,306.30 366.9,306.57 365.9,306.83 364.9,307.11 363.9,307.38 362.9,307.66 361.9,307.94 360.9,308.21 359.9,308.49 358.9,308.77 357.9,309.06 356.9,309.34 355.9,309.62 354.9,309.90 353.9,310.18 352.9,310.46 351.9,310.75 350.9,311.03 349.9,311.32 348.9,311.61 347.9,311.90 346.9,312.20 345.9,312.50 344.9,312.81 343.9,313.12 342.9,313.44 341.9,313.77 340.9,314.10 339.9,314.44 338.9,314.79 337.9,315.16 336.9,315.53 335.9,315.91 334.9,316.30 333.9,316.70 332.9,317.10 331.9,317.52 330.9,317.95 329.9,318.39 328.9,318.84 327.9,319.29 326.9,319.75 325.9,320.22 324.9,320.70 323.9,321.18 322.9,321.67 321.9,322.16 320.9,322.66 319.9,323.16 318.9,323.66 317.9,324.16 316.9,324.67 315.9,325.17 314.9,325.67 313.9,326.16 312.9,326.66 311.9,327.14 310.9,327.62 309.9,328.09 308.9,328.55 307.9,329.00 306.9,329.43 305.9,329.85 304.9,330.24 303.9,330.62 302.9,330.97 301.9,331.30 300.9,331.61 299.9,331.88 298.9,332.12 297.9,332.32 296.9,332.49 295.9,332.62 294.9,332.71 293.9,332.76 292.9,332.76 291.9,332.72 290.9,332.62 289.9,332.48 288.9,332.29 287.9,332.05 286.9,331.76 285.9,331.41 284.9,331.02 283.9,330.57 282.9,330.08 281.9,329.53 280.9,328.94 279.9,328.31 278.9,327.63 277.9,326.92 276.9,326.17 275.9,325.38 274.9,324.56 273.9,323.72 272.9,322.86 271.9,321.97 270.9,321.07 269.9,320.16 268.9,319.24 267.9,318.32 266.9,317.39 265.9,316.48 264.9,315.56 263.9,314.66 262.9,313.78 261.9,312.91 260.9,312.06 259.9,311.24 258.9,310.43 257.9,309.66 256.9,308.91 255.9,308.19 254.9,307.51 253.9,306.85 252.9,306.23 251.9,305.63 250.9,305.07 249.9,304.55 248.9,304.05 247.9,303.58 246.9,303.16 245.9,302.77 244.9,302.42 243.9,302.08 242.9,301.78 241.9,301.49 240.9,301.23 239.9,300.99 238.9,300.77 237.9,300.56 236.9,300.38 235.9,300.21 234.9,300.05Z" fill="#f2aba8" stroke="#6f6f6f" stroke-width="2.3" stroke-linejoin="miter"/>
<path d="M240.7,382.51 241.7,382.30 242.7,382.07 243.7,381.80 244.7,381.51 245.7,381.20 246.7,380.85 247.7,380.47 248.7,380.06 249.7,379.62 250.7,379.13 251.7,378.59 252.7,378.01 253.7,377.39 254.7,376.73 255.7,376.03 256.7,375.30 257.7,374.53 258.7,373.73 259.7,372.89 260.7,372.02 261.7,371.12 262.7,370.20 263.7,369.25 264.7,368.28 265.7,367.29 266.7,366.28 267.7,365.27 268.7,364.25 269.7,363.23 270.7,362.22 271.7,361.21 272.7,360.22 273.7,359.24 274.7,358.30 275.7,357.38 276.7,356.49 277.7,355.65 278.7,354.85 279.7,354.10 280.7,353.41 281.7,352.77 282.7,352.18 283.7,351.67 284.7,351.21 285.7,350.82 286.7,350.50 287.7,350.24 288.7,350.05 289.7,349.92 290.7,349.85 291.7,349.84 292.7,349.89 293.7,349.99 294.7,350.13 295.7,350.33 296.7,350.56 297.7,350.84 298.7,351.14 299.7,351.48 300.7,351.84 301.7,352.22 302.7,352.62 303.7,353.03 304.7,353.46 305.7,353.89 306.7,354.33 307.7,354.78 308.7,355.22 309.7,355.67 310.7,356.11 311.7,356.55 312.7,356.99 313.7,357.42 314.7,357.85 315.7,358.27 316.7,358.68 317.7,359.08 318.7,359.47 319.7,359.85 320.7,360.23 321.7,360.60 322.7,360.96 323.7,361.31 324.7,361.66 325.7,362.00 326.7,362.34 327.7,362.67 328.7,363.00 329.7,363.33 330.7,363.66 331.7,363.99 332.7,364.33 333.7,364.66 334.7,365.00 335.7,365.35 336.7,365.69 337.7,366.04 338.7,366.39 339.7,366.75 340.7,367.10 341.7,367.46 342.7,367.81 343.7,368.16 344.7,368.51 345.7,368.85 346.7,369.19 347.7,369.52 348.7,369.84 349.7,370.16 350.7,370.46 351.7,370.75 352.7,371.03 353.7,371.30 354.7,371.56 355.7,371.82 356.7,372.06 357.7,372.29 358.7,372.51 359.7,372.73 360.7,372.94 361.7,373.14 362.7,373.34 363.7,373.53 364.7,373.72 365.7,373.91 366.7,374.10 367.7,374.28 368.7,374.46 369.7,374.64 370.7,374.82 371.7,375.00 372.7,375.17 373.7,375.35 374.7,375.52 375.7,375.69 376.7,375.86 377.7,376.03 378.7,376.19 379.7,376.36 380.7,376.52 381.7,376.68 382.7,376.84 383.7,377.00 384.7,377.16 385.7,377.31 386.7,377.46 387.7,377.61 388.7,377.76 389.7,377.91 390.7,378.06 391.7,378.20 392.7,378.34 393.7,378.48 394.7,378.61 395.7,378.75 396.7,378.88 397.7,379.01 398.7,379.13 399.7,379.25 400.7,379.37 401.7,379.48 402.7,379.58 403.7,379.69 404.7,379.79 405.7,379.89 406.7,379.99 407.7,380.08 408.7,380.18 409.7,380.27 410.7,380.36 411.7,380.46 412.7,380.55 413.7,380.64 414.7,380.74 415.7,380.83 416.7,380.93 417.7,381.02 418.7,381.12 419.7,381.22 420.7,381.31 421.7,381.41 422.7,381.51 423.7,381.60 424.7,381.70 425.7,381.79 426.7,381.88 427.7,381.97 428.7,382.06 429.7,382.15 430.7,382.23 431.7,382.31 432.7,382.39 433.7,382.47 434.7,382.54 435.7,382.61 436.7,382.67 437.7,382.74 438.7,382.80 439.7,382.86 440.7,382.92 441.7,382.97 442.7,383.02 443.7,383.07 444.7,383.12 445.7,383.17 446.7,383.22 447.7,383.26 448.7,383.30 449.7,383.34 450.7,383.38 451.7,383.42 452.7,383.46 453.7,383.50 454.7,383.53 455.7,383.57 456.7,383.60 457.7,383.63 458.7,383.66 459.7,383.69 460.7,383.72 461.7,383.74 462.7,383.77 463.7,383.79 464.7,383.81 465.7,383.83 466.4,383.84 L466.4,383.94 465.7,383.95 464.7,383.97 463.7,383.99 462.7,384.01 461.7,384.04 460.7,384.06 459.7,384.09 458.7,384.12 457.7,384.15 456.7,384.18 455.7,384.21 454.7,384.25 453.7,384.28 452.7,384.32 451.7,384.36 450.7,384.40 449.7,384.44 448.7,384.48 447.7,384.52 446.7,384.56 445.7,384.61 444.7,384.66 443.7,384.71 442.7,384.76 441.7,384.81 440.7,384.86 439.7,384.92 438.7,384.98 437.7,385.04 436.7,385.11 435.7,385.17 434.7,385.24 433.7,385.31 432.7,385.39 431.7,385.47 430.7,385.55 429.7,385.63 428.7,385.72 427.7,385.81 426.7,385.90 425.7,385.99 424.7,386.08 423.7,386.18 422.7,386.27 421.7,386.37 420.7,386.47 419.7,386.56 418.7,386.66 417.7,386.76 416.7,386.85 415.7,386.95 414.7,387.04 413.7,387.14 412.7,387.23 411.7,387.32 410.7,387.42 409.7,387.51 408.7,387.60 407.7,387.70 406.7,387.79 405.7,387.89 404.7,387.99 403.7,388.09 402.7,388.20 401.7,388.30 400.7,388.41 399.7,388.53 398.7,388.65 397.7,388.77 396.7,388.90 395.7,389.03 394.7,389.17 393.7,389.30 392.7,389.44 391.7,389.58 390.7,389.72 389.7,389.87 388.7,390.02 387.7,390.17 386.7,390.32 385.7,390.47 384.7,390.62 383.7,390.78 382.7,390.94 381.7,391.10 380.7,391.26 379.7,391.42 378.7,391.59 377.7,391.75 376.7,391.92 375.7,392.09 374.7,392.26 373.7,392.43 372.7,392.61 371.7,392.78 370.7,392.96 369.7,393.14 368.7,393.32 367.7,393.50 366.7,393.68 365.7,393.87 364.7,394.06 363.7,394.25 362.7,394.44 361.7,394.64 360.7,394.84 359.7,395.05 358.7,395.27 357.7,395.49 356.7,395.72 355.7,395.96 354.7,396.22 353.7,396.48 352.7,396.75 351.7,397.03 350.7,397.32 349.7,397.62 348.7,397.94 347.7,398.26 346.7,398.59 345.7,398.93 344.7,399.27 343.7,399.62 342.7,399.97 341.7,400.32 340.7,400.68 339.7,401.03 338.7,401.39 337.7,401.74 336.7,402.09 335.7,402.43 334.7,402.78 333.7,403.12 332.7,403.45 331.7,403.79 330.7,404.12 329.7,404.45 328.7,404.78 327.7,405.11 326.7,405.44 325.7,405.78 324.7,406.12 323.7,406.47 322.7,406.82 321.7,407.18 320.7,407.55 319.7,407.93 318.7,408.31 317.7,408.70 316.7,409.10 315.7,409.51 314.7,409.93 313.7,410.36 312.7,410.79 311.7,411.23 310.7,411.67 309.7,412.11 308.7,412.56 307.7,413.00 306.7,413.45 305.7,413.89 304.7,414.32 303.7,414.75 302.7,415.16 301.7,415.56 300.7,415.94 299.7,416.30 298.7,416.64 297.7,416.94 296.7,417.22 295.7,417.45 294.7,417.65 293.7,417.79 292.7,417.89 291.7,417.94 290.7,417.93 289.7,417.86 288.7,417.73 287.7,417.54 286.7,417.28 285.7,416.96 284.7,416.57 283.7,416.11 282.7,415.60 281.7,415.01 280.7,414.37 279.7,413.68 278.7,412.93 277.7,412.13 276.7,411.29 275.7,410.40 274.7,409.48 273.7,408.54 272.7,407.56 271.7,406.57 270.7,405.56 269.7,404.55 268.7,403.53 267.7,402.51 266.7,401.50 265.7,400.49 264.7,399.50 263.7,398.53 262.7,397.58 261.7,396.66 260.7,395.76 259.7,394.89 258.7,394.05 257.7,393.25 256.7,392.48 255.7,391.75 254.7,391.05 253.7,390.39 252.7,389.77 251.7,389.19 250.7,388.65 249.7,388.16 248.7,387.72 247.7,387.31 246.7,386.93 245.7,386.58 244.7,386.27 243.7,385.98 242.7,385.71 241.7,385.48 240.7,385.27Z" fill="#d3c4f6" stroke="#6f6f6f" stroke-width="2.3" stroke-linejoin="miter"/>
<line x1="201.92" y1="426.3" x2="201.92" y2="0.5" stroke="#b0b0b0" stroke-opacity="0.55" stroke-width="1.7" stroke-dasharray="4.14 1.78"/>
<line x1="270.80" y1="426.3" x2="270.80" y2="0.5" stroke="#b0b0b0" stroke-opacity="0.55" stroke-width="1.7" stroke-dasharray="4.14 1.78"/>
<line x1="339.68" y1="426.3" x2="339.68" y2="0.5" stroke="#b0b0b0" stroke-opacity="0.55" stroke-width="1.7" stroke-dasharray="4.14 1.78"/>
<line x1="408.56" y1="426.3" x2="408.56" y2="0.5" stroke="#b0b0b0" stroke-opacity="0.55" stroke-width="1.7" stroke-dasharray="4.14 1.78"/>
<line x1="477.44" y1="426.3" x2="477.44" y2="0.5" stroke="#b0b0b0" stroke-opacity="0.55" stroke-width="1.7" stroke-dasharray="4.14 1.78"/>
<line x1="546.32" y1="426.3" x2="546.32" y2="0.5" stroke="#b0b0b0" stroke-opacity="0.55" stroke-width="1.7" stroke-dasharray="4.14 1.78"/>
<line x1="615.20" y1="426.3" x2="615.20" y2="0.5" stroke="#b0b0b0" stroke-opacity="0.55" stroke-width="1.7" stroke-dasharray="4.14 1.78"/>
<line x1="189.8" y1="0" x2="189.8" y2="426.90000000000003" stroke="#000" stroke-width="1.3"/>
<line x1="189.20000000000002" y1="426.3" x2="685" y2="426.3" stroke="#000" stroke-width="1.3"/>
<rect x="189.20000000000002" y="0" width="495.8" height="1.75" fill="#5a5a5a"/>
<rect x="683.1" y="0" width="1.9" height="426.90000000000003" fill="#5a5a5a"/>
<line x1="201.92" y1="426.3" x2="201.92" y2="431.16" stroke="#000" stroke-width="1.3"/>
<text class="tick" x="201.92" y="449.3" text-anchor="middle">−0.2</text>
<line x1="270.80" y1="426.3" x2="270.80" y2="431.16" stroke="#000" stroke-width="1.3"/>
<text class="tick" x="270.80" y="449.3" text-anchor="middle">0.0</text>
<line x1="339.68" y1="426.3" x2="339.68" y2="431.16" stroke="#000" stroke-width="1.3"/>
<text class="tick" x="339.68" y="449.3" text-anchor="middle">0.2</text>
<line x1="408.56" y1="426.3" x2="408.56" y2="431.16" stroke="#000" stroke-width="1.3"/>
<text class="tick" x="408.56" y="449.3" text-anchor="middle">0.4</text>
<line x1="477.44" y1="426.3" x2="477.44" y2="431.16" stroke="#000" stroke-width="1.3"/>
<text class="tick" x="477.44" y="449.3" text-anchor="middle">0.6</text>
<line x1="546.32" y1="426.3" x2="546.32" y2="431.16" stroke="#000" stroke-width="1.3"/>
<text class="tick" x="546.32" y="449.3" text-anchor="middle">0.8</text>
<line x1="615.20" y1="426.3" x2="615.20" y2="431.16" stroke="#000" stroke-width="1.3"/>
<text class="tick" x="615.20" y="449.3" text-anchor="middle">1.0</text>
<line x1="184.94" y1="43.25" x2="189.8" y2="43.25" stroke="#000" stroke-width="1.3"/>
<text class="tick" x="180.08" y="50.00" text-anchor="end">Linear Regression</text>
<line x1="184.94" y1="128.41" x2="189.8" y2="128.41" stroke="#000" stroke-width="1.3"/>
<text class="tick" x="180.08" y="135.16" text-anchor="end">Decision Tree</text>
<line x1="184.94" y1="213.57" x2="189.8" y2="213.57" stroke="#000" stroke-width="1.3"/>
<text class="tick" x="180.08" y="220.32" text-anchor="end">Random Forest 5</text>
<line x1="184.94" y1="298.73" x2="189.8" y2="298.73" stroke="#000" stroke-width="1.3"/>
<text class="tick" x="180.08" y="305.48" text-anchor="end">Random Forest 10</text>
<line x1="184.94" y1="383.89" x2="189.8" y2="383.89" stroke="#000" stroke-width="1.3"/>
<text class="tick" x="180.08" y="390.64" text-anchor="end">Random Forest 15</text>
<text class="lab" x="437" y="473.2" text-anchor="middle">Mean Absolute Error (MAE)</text>
<text class="lab" transform="translate(14.8,213.4) rotate(-90)" text-anchor="middle">Model</text>
</svg></body></html>
